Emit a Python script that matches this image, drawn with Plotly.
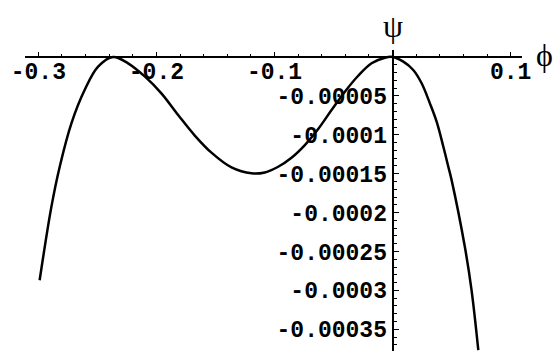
import plotly.graph_objects as go

# curve (phi, psi)
phi = [-0.2989, -0.2890, -0.2819, -0.2720, -0.2608, -0.2494, -0.2367, -0.2240,
       -0.2099, -0.1958, -0.1816, -0.1675, -0.1534, -0.1364, -0.1195, -0.1082,
       -0.0969, -0.0856, -0.0743, -0.0630, -0.0517, -0.0404, -0.0291, -0.0178,
       -0.0065, 0.0, 0.0091, 0.0175, 0.0246, 0.0316, 0.0373, 0.0430,
       0.0472, 0.0500, 0.0613, 0.0669, 0.0726]
psi = [-0.000287, -0.000193, -0.000141, -0.0000853, -0.0000425, -0.0000125, 0.0, -0.0000081,
       -0.0000250, -0.0000467, -0.0000746, -0.0001010, -0.0001230, -0.0001420, -0.0001496, -0.0001484,
       -0.0001411, -0.0001295, -0.0001132, -0.0000926, -0.0000682, -0.0000446, -0.0000241, -0.0000081,
       -0.0000009, 0.0, -0.0000060, -0.0000167, -0.0000338, -0.0000596, -0.0000832, -0.0001154,
       -0.0001411, -0.0001583, -0.000245, -0.0003, -0.000377]

x_ticks = [-0.3, -0.2, -0.1, 0.1]
x_labels = ["-0.3", "-0.2", "-0.1", "0.1"]
y_ticks = [-0.00005, -0.0001, -0.00015, -0.0002, -0.00025, -0.0003, -0.00035]
y_labels = ["-0.00005", "-0.0001", "-0.00015", "-0.0002", "-0.00025", "-0.0003", "-0.00035"]

x_range = [-0.3113, 0.1096]
y_range = [-0.000378, 0.000009]

tick_font = dict(family="Liberation Mono", size=23, color="black", weight="bold")

fig = go.Figure()
fig.add_trace(go.Scatter(x=phi, y=psi, mode="lines",
                         line=dict(color="black", width=2.5, shape="spline", smoothing=1),
                         showlegend=False, hoverinfo="skip"))

fig.update_layout(
    width=555, height=351,
    margin=dict(l=25, r=33, t=50, b=0, autoexpand=False),
    plot_bgcolor="white", paper_bgcolor="white",
    xaxis=dict(range=x_range, anchor="free", automargin=False,
               position=(0 - y_range[0]) / (y_range[1] - y_range[0]),
               showgrid=False, zeroline=False, showline=True, linecolor="black", linewidth=1.5,
               tickvals=x_ticks, ticktext=x_labels, ticks="inside", ticklen=4,
               tickcolor="black", tickfont=tick_font, layer="below traces",
               ticklabelstandoff=-6,
               minor=dict(dtick=0.02, tick0=0, ticks="inside", ticklen=2, tickcolor="black", showgrid=False)),
    yaxis=dict(range=y_range, anchor="free", automargin=False,
               position=(0 - x_range[0]) / (x_range[1] - x_range[0]),
               showgrid=False, zeroline=False, showline=True, linecolor="black", linewidth=2,
               tickvals=y_ticks, ticktext=y_labels, ticks="inside", ticklen=5,
               tickcolor="black", tickfont=tick_font, layer="below traces",
               minor=dict(dtick=0.00001, tick0=0, ticks="inside", ticklen=3, tickcolor="black", showgrid=False)),
    annotations=[
        dict(text="ψ", x=0, y=1.08, xref="x", yref="paper", showarrow=False,
             xanchor="center", yanchor="middle",
             font=dict(family="Liberation Serif", size=32, color="black")),
        dict(text="ϕ", x=1.046, y=0.985, xref="paper", yref="paper", showarrow=False,
             xanchor="center", yanchor="middle",
             font=dict(family="Liberation Serif", size=32, color="black")),
    ],
)

fig.write_html("out.html", config={"displayModeBar": False},
               post_script="document.body.style.margin='0';")
